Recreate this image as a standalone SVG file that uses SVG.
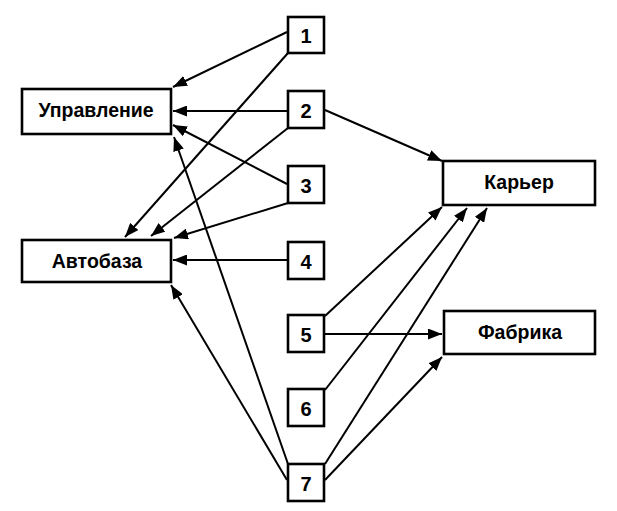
<svg xmlns="http://www.w3.org/2000/svg" width="617" height="511" viewBox="0 0 617 511">
<defs>
<style>
.box{fill:#fff;stroke:#000;stroke-width:2.6}
.lbl{font-family:"Liberation Sans",Arial,sans-serif;font-weight:bold;font-size:19.5px;fill:#000;text-anchor:middle}
.num{font-family:"Liberation Sans",Arial,sans-serif;font-weight:bold;font-size:20px;fill:#000;text-anchor:middle}
.c line{stroke:#000;stroke-width:2;marker-end:url(#ah)}
</style>
<marker id="ah" markerUnits="userSpaceOnUse" markerWidth="15" markerHeight="11" refX="14" refY="5.5" orient="auto">
<path d="M0,0 L14,5.5 L0,11 z" fill="#000"/>
</marker>
</defs>
<rect width="617" height="511" fill="#fff"/>
<g id="connectors" class="c">
<line x1="287" y1="32" x2="173" y2="87"/>
<line x1="288" y1="53" x2="125" y2="237"/>
<line x1="287" y1="111" x2="173" y2="111"/>
<line x1="288" y1="128" x2="151" y2="236"/>
<line x1="325" y1="110" x2="442" y2="161"/>
<line x1="287" y1="184" x2="173" y2="125"/>
<line x1="288" y1="203" x2="174" y2="238"/>
<line x1="287" y1="260" x2="173" y2="260"/>
<line x1="325" y1="316" x2="442" y2="207"/>
<line x1="325" y1="334" x2="442" y2="334"/>
<line x1="325" y1="390" x2="467" y2="208"/>
<line x1="325" y1="464" x2="487" y2="208"/>
<line x1="325" y1="480" x2="442" y2="357"/>
<line x1="288" y1="464" x2="174" y2="137"/>
<line x1="287" y1="480" x2="171" y2="285"/>
</g>
<g id="upravlenie"><rect class="box" x="22" y="89" width="149" height="45"/><text class="lbl" x="96" y="117">Управление</text></g>
<g id="avtobaza"><rect class="box" x="22" y="240" width="149" height="42"/><text class="lbl" x="97" y="268">Автобаза</text></g>
<g id="karier"><rect class="box" x="443" y="161" width="152" height="44"/><text class="lbl" x="519" y="189">Карьер</text></g>
<g id="fabrika"><rect class="box" x="444" y="311" width="151" height="43"/><text class="lbl" x="520" y="339">Фабрика</text></g>
<g id="n1"><rect class="box" x="288" y="17" width="36" height="36"/><text class="num" x="306" y="43">1</text></g>
<g id="n2"><rect class="box" x="288" y="91" width="36" height="37"/><text class="num" x="306" y="118">2</text></g>
<g id="n3"><rect class="box" x="288" y="166" width="36" height="37"/><text class="num" x="306" y="193">3</text></g>
<g id="n4"><rect class="box" x="288" y="242" width="36" height="37"/><text class="num" x="306" y="269">4</text></g>
<g id="n5"><rect class="box" x="288" y="315" width="36" height="37"/><text class="num" x="306" y="342">5</text></g>
<g id="n6"><rect class="box" x="288" y="389" width="36" height="37"/><text class="num" x="306" y="416">6</text></g>
<g id="n7"><rect class="box" x="288" y="464" width="36" height="37"/><text class="num" x="306" y="491">7</text></g>
</svg>
